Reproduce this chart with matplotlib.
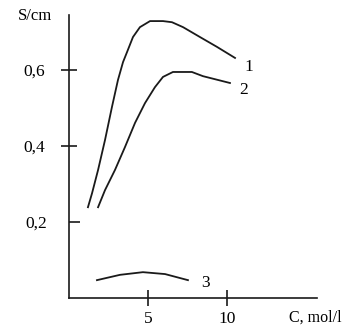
import matplotlib
matplotlib.use('Agg')
import matplotlib.pyplot as plt

# curves (C in mol/l, S/cm)
c1 = [1.20, 1.46, 1.84, 2.28, 2.72, 3.10, 3.42, 3.67, 4.05, 4.49, 5.13, 5.95, 6.52, 7.22, 8.29, 9.37, 10.51]
s1 = [0.239, 0.276, 0.337, 0.416, 0.503, 0.574, 0.621, 0.647, 0.687, 0.713, 0.729, 0.729, 0.726, 0.713, 0.687, 0.661, 0.632]

c2 = [1.84, 2.28, 2.91, 3.54, 4.18, 4.81, 5.44, 5.95, 6.58, 7.78, 8.48, 10.19]
s2 = [0.239, 0.284, 0.337, 0.397, 0.461, 0.513, 0.555, 0.582, 0.595, 0.595, 0.584, 0.566]

c3 = [1.77, 3.23, 4.68, 6.08, 7.53]
s3 = [0.047, 0.061, 0.068, 0.063, 0.047]

x_ticks = [5, 10]
x_labels = ['5', '10']
y_ticks = [0.4, 0.6]
y_labels = ['0,4', '0,6']

plt.rcParams['font.family'] = ['Liberation Serif', 'DejaVu Serif']

fig = plt.figure(figsize=(3.52, 3.30), dpi=100)
ax = fig.add_axes([69/352, 32/330, 248/352, 283/330])

for c, s in [(c1, s1), (c2, s2), (c3, s3)]:
    ax.plot(c, s, color='#1a1a1a', lw=1.3)

ax.text(11.4, 0.608, '1', fontsize=12.5, ha='center', va='center')
ax.text(11.08, 0.547, '2', fontsize=12.5, ha='center', va='center')
ax.text(8.67, 0.039, '3', fontsize=12.5, ha='center', va='center')

ax.set_xlim(0, 15.7)
ax.set_ylim(0, 0.745)
for side in ['top', 'right']:
    ax.spines[side].set_visible(False)
for side in ['left', 'bottom']:
    ax.spines[side].set_linewidth(1.2)
    ax.spines[side].set_color('#1a1a1a')

ax.set_xticks(x_ticks)
ax.set_xticklabels(x_labels)
ax.set_yticks(y_ticks)
ax.set_yticklabels(y_labels)
ax.set_yticks([0.2], minor=True)
ax.set_yticklabels(['0,2'], minor=True)
ax.tick_params(axis='both', which='major', direction='inout', length=11, width=1.2, labelsize=12.5, color='#1a1a1a')
ax.tick_params(axis='x', pad=4)
ax.tick_params(axis='y', which='major', pad=12)
ax.tick_params(axis='y', which='minor', direction='in', length=8, width=1.2, labelsize=12.5, pad=16, color='#1a1a1a')

fig.text(35/352, 1 - 16/330, 'S/cm', fontsize=12, ha='center', va='center')
fig.text(315/352, 1 - 318/330, 'C, mol/l', fontsize=11.5, ha='center', va='center')

fig.savefig('out.png', dpi=100)
